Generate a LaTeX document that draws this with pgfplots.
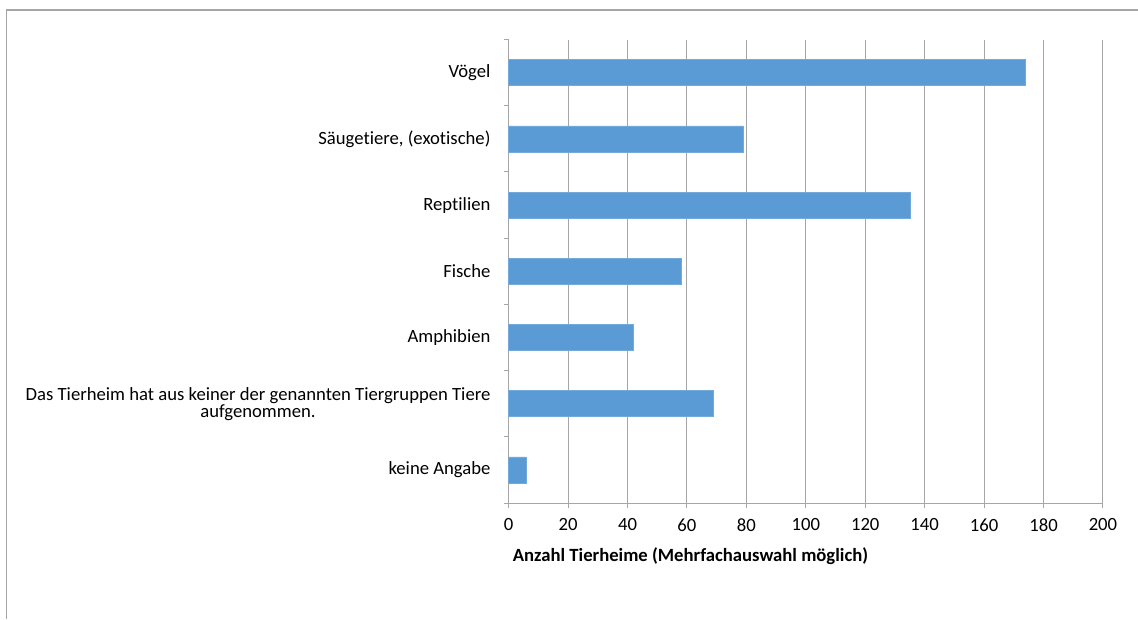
\documentclass[border=0pt]{standalone}
\usepackage{fontspec}
\setmainfont{Carlito}[Ligatures=NoCommon]
\usepackage{pgfplots}
\pgfplotsset{compat=1.18}

\definecolor{barblue}{HTML}{5B9BD5}
\definecolor{gridgray}{HTML}{A6A6A6}

\begin{document}
\begin{tikzpicture}
% canvas: 1 px of the reference = 0.75pt
\path[use as bounding box] (0,0) rectangle (853.5pt,-464.25pt);
\draw[gridgray, line width=0.9pt] (5pt,-464.25pt) -- (5pt,-7.5pt) -- (853.5pt,-7.5pt);

\begin{axis}[
    at={(381.5pt,-377.25pt)}, anchor=south west,
    scale only axis,
    width=445.7pt, height=347.6pt,
    xbar, bar width=19.5pt,
    xmin=0, xmax=200,
    xtick={0,20,...,200},
    ymin=-0.5, ymax=6.5,
    ytick={-0.5,0.5,...,6.5},
    yticklabels={},
    extra y ticks={0,...,6},
    extra y tick labels={keine Angabe,
      {Das Tierheim hat aus keiner der genannten Tiergruppen Tiere\\aufgenommen.},
      Amphibien, Fische, Reptilien, {Säugetiere, (exotische)}, Vögel},
    extra y tick style={major tick length=0pt},
    axis lines=left,
    axis line style={-, gridgray, line width=0.75pt},
    tick align=outside,
    major tick length=3.75pt,
    xmajorgrids,
    grid style={gridgray, line width=0.75pt},
    major tick style={gridgray, line width=0.75pt},
    /pgf/number format/assume math mode=true,
    ticklabel style={font=\fontsize{14}{12.75}\selectfont, text=black},
    yticklabel style={align=center, inner sep=0pt, xshift=-13.5pt},
    xticklabel style={yshift=-4.5pt},
    xlabel={Anzahl Tierheime (Mehrfachauswahl möglich)},
    xlabel style={at={(axis description cs:0.306,0)}, anchor=center,
      yshift=-39.75pt, font=\fontsize{14}{16}\selectfont\bfseries},
    clip=false,
]
\addplot[fill=barblue, draw=barblue!85!white, line width=0.4pt] coordinates {
    (6,0) (69,1) (42,2) (58,3) (135,4) (79,5) (174,6)
};
\end{axis}
\end{tikzpicture}
\end{document}
